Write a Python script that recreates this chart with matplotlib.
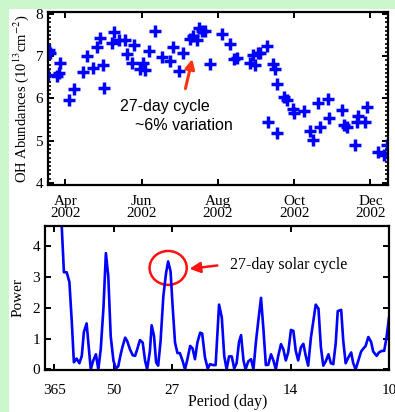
import matplotlib
matplotlib.use('Agg')
import matplotlib.pyplot as plt
from matplotlib.patches import Ellipse, Rectangle
from matplotlib.ticker import MultipleLocator

plt.rcParams['font.family'] = 'Liberation Serif'
plt.rcParams['mathtext.fontset'] = 'stix'

# upper panel: OH column abundance, day of year 2002
days = [78, 79, 77, 84, 86, 87, 94, 98, 105, 108, 113, 116, 119, 121, 122, 128,
        130, 134, 139, 140, 144, 146, 151, 153, 155, 158, 163, 168, 175, 177, 182,
        185, 191, 193, 196, 198, 200, 203, 207, 216, 223, 226, 228, 239, 241, 243,
        245, 247, 252, 257, 259, 260, 253, 260, 266, 268, 273, 274, 282, 287, 289,
        293, 295, 301, 302, 312, 314, 316, 323, 324, 325, 331, 332, 341, 346, 348]
oh = [7.16, 7.07, 6.56, 6.53, 6.60, 6.83, 5.96, 6.22, 6.63, 7.01, 6.73, 7.21, 7.44,
      6.79, 6.24, 7.32, 7.58, 7.38, 7.38, 7.05, 6.85, 7.27, 6.71, 6.85, 6.67, 7.12,
      7.60, 6.98, 6.89, 7.21, 6.65, 7.07, 7.40, 7.48, 7.38, 7.66, 7.60, 7.60, 6.82,
      7.53, 7.28, 6.93, 6.95, 6.83, 7.03, 6.79, 7.07, 7.08, 7.24, 6.82, 6.71, 6.34,
      5.45, 5.18, 6.04, 5.96, 5.74, 5.65, 5.70, 5.24, 5.02, 5.90, 5.33, 5.98, 5.53,
      5.73, 5.37, 5.33, 4.90, 5.45, 5.59, 5.45, 5.79, 4.74, 4.66, 4.90]
month_days = [91, 152, 213, 274, 335]
month_labels = ['Apr\n2002', 'Jun\n2002', 'Aug\n2002', 'Oct\n2002', 'Dec\n2002']

# lower panel: periodogram, frequency in 1/day
freq = [0.0048, 0.0055, 0.0063, 0.0071, 0.0078, 0.0084, 0.0092, 0.0100, 0.0107,
        0.0113, 0.0121, 0.0126, 0.0133, 0.0140, 0.0148, 0.0155, 0.0162, 0.0170,
        0.0177, 0.0184, 0.0191, 0.0199, 0.0206, 0.0213, 0.0220, 0.0226, 0.0233,
        0.0239, 0.0247, 0.0255, 0.0262, 0.0268, 0.0276, 0.0284, 0.0291, 0.0297,
        0.0305, 0.0310, 0.0317, 0.0323, 0.0329, 0.0336, 0.0344, 0.0352, 0.0358,
        0.0365, 0.0371, 0.0378, 0.0385, 0.0392, 0.0400, 0.0407, 0.0414, 0.0422,
        0.0429, 0.0436, 0.0443, 0.0451, 0.0457, 0.0465, 0.0473, 0.0480, 0.0489,
        0.0496, 0.0506, 0.0514, 0.0521, 0.0528, 0.0535, 0.0543, 0.0550, 0.0557,
        0.0564, 0.0570, 0.0577, 0.0583, 0.0591, 0.0599, 0.0606, 0.0613, 0.0620,
        0.0628, 0.0635, 0.0642, 0.0649, 0.0657, 0.0664, 0.0671, 0.0678, 0.0686,
        0.0693, 0.0700, 0.0707, 0.0715, 0.0722, 0.0729, 0.0736, 0.0744, 0.0751,
        0.0758, 0.0765, 0.0773, 0.0780, 0.0787, 0.0795, 0.0802, 0.0809, 0.0816,
        0.0824, 0.0831, 0.0838, 0.0845, 0.0851, 0.0861, 0.0867, 0.0874, 0.0882,
        0.0890, 0.0896, 0.0903, 0.0911, 0.0919, 0.0925, 0.0932, 0.0940, 0.0948,
        0.0954, 0.0964, 0.0971, 0.0979, 0.0986, 0.0993, 0.1000]
power = [4.80, 3.15, 3.15, 2.83, 1.52, 0.23, 0.35, 0.20, 0.44, 1.21, 1.49, 0.87,
         0.00, 0.28, 0.49, 0.00, 0.65, 2.00, 3.77, 3.02, 1.08, 0.28, 0.03, 0.10,
         0.49, 0.76, 1.03, 0.92, 0.65, 0.46, 0.44, 0.65, 0.95, 0.87, 0.28, 0.00,
         0.60, 1.43, 1.08, 0.23, 0.12, 0.92, 2.37, 3.13, 3.50, 3.18, 2.05, 0.87,
         0.53, 0.53, 0.28, 0.00, 0.33, 0.76, 0.68, 0.33, 0.87, 1.19, 1.16, 0.39,
         0.03, 0.17, 0.14, 0.14, 2.10, 1.68, 0.44, 0.00, 0.42, 0.42, 0.03, 0.20,
         0.89, 1.11, 0.29, 0.00, 0.26, 0.33, 0.00, 0.87, 1.57, 2.32, 1.30, 0.14,
         0.15, 0.49, 0.29, 0.00, 0.44, 0.82, 0.65, 0.29, 0.55, 1.28, 1.25, 0.60,
         0.29, 0.72, 0.83, 0.44, 0.12, 1.03, 1.57, 2.10, 1.97, 0.72, 0.12, 0.26,
         0.49, 0.20, 0.17, 0.83, 1.89, 1.93, 0.93, 0.20, 0.39, 0.55, 0.20, 0.00,
         0.29, 0.58, 0.67, 0.76, 1.05, 0.89, 0.58, 0.44, 0.55, 0.60, 0.60, 1.05,
         1.68]
periods = [365, 50, 27, 14, 10]

fig = plt.figure(figsize=(3.95, 4.12), dpi=100)
fig.patch.set_facecolor('#ccf7cc')
fig.patches.append(Rectangle((9 / 395, 0), 1, 403 / 412, transform=fig.transFigure,
                             facecolor='white', edgecolor='none', zorder=-5))

ax1 = fig.add_axes([0.1215, 0.551, 0.8605, 0.42])
ax2 = fig.add_axes([0.1139, 0.1019, 0.8709, 0.3496])

for ax in (ax1, ax2):
    for s in ax.spines.values():
        s.set_linewidth(1.6)
    ax.tick_params(direction='in', top=True, right=True, width=1.4, length=4,
                   labelsize=11)
    ax.tick_params(axis='x', pad=7)

ax1.plot(days, oh, '+', color='#0000ff', markersize=8, mew=2.5)
ax1.set_xlim(77, 349)
ax1.set_ylim(3.95, 8.05)
ax1.set_xticks(month_days)
ax1.set_xticklabels(month_labels, linespacing=0.95)
ax1.set_yticks([4, 5, 6, 7, 8])
ax1.yaxis.set_minor_locator(MultipleLocator(0.1))
ax1.tick_params(axis='y', which='minor', direction='in', left=True, right=True,
                length=2.5, width=1.2)
ax1.set_ylabel('OH Abundances (10$^{13}$cm$^{-2}$)', fontsize=10.5, labelpad=3)
ax1.text(135, 5.82, '27-day cycle', family='Liberation Sans', fontsize=11.5,
         ha='left', va='center')
ax1.text(147, 5.37, '~6% variation', family='Liberation Sans', fontsize=11.5,
         ha='left', va='center')
ax1.annotate('', xy=(193, 7.0), xytext=(186.5, 6.17),
             arrowprops=dict(arrowstyle='-|>', color='#ff3311', lw=2.2,
                             mutation_scale=14))

ax2.plot(freq, power, color='#0000ff', lw=1.9)
ax2.set_xlim(0, 0.1)
ax2.set_ylim(-0.02, 4.65)
ax2.set_xticks([1 / p for p in periods])
ax2.set_xticklabels([str(p) for p in periods])
ax2.tick_params(axis='x', pad=10)
ax2.set_yticks([0, 1, 2, 3, 4])
ax2.set_ylabel('Power', fontsize=11, labelpad=6)
ax2.set_xlabel('Period (day)', fontsize=11.5)
ax2.xaxis.set_label_coords(0.53, -0.165)
ax2.add_patch(Ellipse((0.0358, 3.29), 0.0108, 1.1, fill=False,
                      edgecolor='#ff1111', lw=1.8))
ax2.annotate('', xy=(0.0412, 3.25), xytext=(0.0509, 3.38),
             arrowprops=dict(arrowstyle='-|>', color='#ff1111', lw=1.8,
                             mutation_scale=16))
ax2.text(0.0537, 3.38, '27-day solar cycle', fontsize=11.5, ha='left',
         va='center')

fig.savefig('out.png', dpi=100, facecolor=fig.get_facecolor())
